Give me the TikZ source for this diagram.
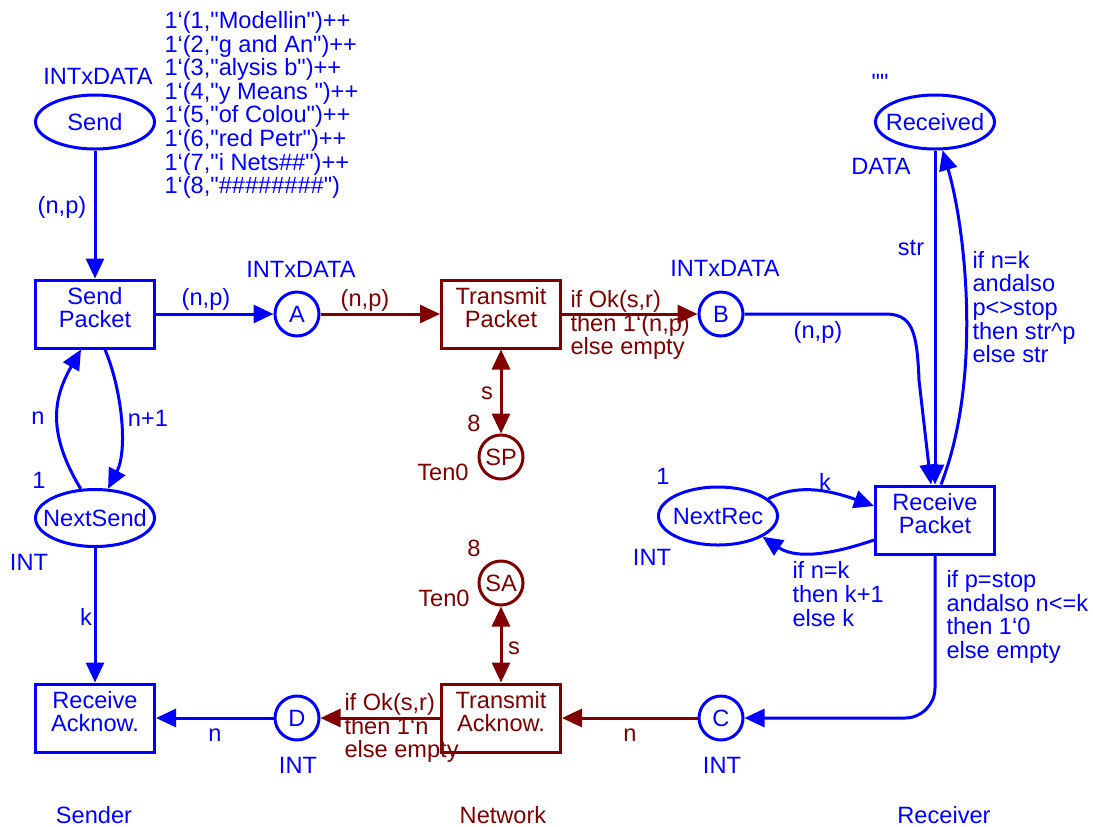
\documentclass[tikz,border=0pt]{standalone}
\usepackage{fontspec}
\setmainfont{Liberation Sans}[Ligatures=TeXOff]
\usepackage{xcolor}
\usepackage{tikz}
\usetikzlibrary{arrows.meta,shapes.geometric}

\definecolor{netred}{RGB}{128,0,0}

\begin{document}
\begin{tikzpicture}[x=0.5pt, y=-0.5pt, line width=1.5pt, >={Triangle[length=10pt,width=9pt]},
                    font=\fontsize{11.8}{11.8}\selectfont]
        \tikzstyle{place}=[circle, draw, minimum size=22pt, inner sep=0pt]
        \tikzstyle{bigplace}=[ellipse, draw, minimum width=59.5pt, minimum height=27pt, inner sep=0pt]
        \tikzstyle{trans}=[rectangle, draw, minimum width=59.5pt, minimum height=34pt, inner sep=0pt, align=center, text depth=6.5pt]
        \tikzstyle{inscr}=[inner sep=0pt, align=left]

        \useasboundingbox (0,0) rectangle (1093,826);

        % Sender
        \draw node at (95, 122) [bigplace, blue] (send) {\makebox[0pt]{Send}};
        \draw node at (98, 76) [inscr, blue] (send_type) {INTxDATA};
        \draw node at (163, 105) [inscr, blue, anchor=west] (send_init)
            {1‘(1,"Modellin")++\\1‘(2,"g and An")++\\1‘(3,"alysis b")++\\1‘(4,"y Means ")++\\
             1‘(5,"of Colou")++\\1‘(6,"red Petr")++\\1‘(7,"i Nets\#\#")++\\1‘(8,"\#\#\#\#\#\#\#\#")};

        \draw node at (95, 314) [trans, blue] (sendpkt) {Send\\Packet};
        \draw node at (95, 518) [bigplace, blue, minimum height=28.5pt] (nextsend) {\makebox[0pt]{NextSend}};
        \draw node at (39, 480) [inscr, blue] (nextsend_init) {1};
        \draw node at (29, 562) [inscr, blue] (nextsend_type) {INT};
        \draw node at (95, 718) [trans, blue] (recvack) {Receive\\Acknow.};

        \draw node at (297, 314) [place, blue] (a) {A};
        \draw node at (301, 269) [inscr, blue] (a_type) {INTxDATA};
        \draw node at (297, 718) [place, blue] (d) {D};
        \draw node at (298, 765) [inscr, blue] (d_type) {INT};

        \draw node at (94, 815) [inscr, blue] (sender) {Sender};

        % Network
        \draw node at (501, 314) [trans, netred] (transpkt) {Transmit\\Packet};
        \draw node at (501, 718) [trans, netred] (transack) {Transmit\\Acknow.};

        \draw node at (501, 457) [place, netred] (sp) {SP};
        \draw node at (474, 423) [inscr, netred] (sp_init) {8};
        \draw node at (443, 472) [inscr, netred] (sp_type) {Ten0};
        \draw node at (501, 583) [place, netred] (sa) {SA};
        \draw node at (474, 548) [inscr, netred] (sa_init) {8};
        \draw node at (444, 598) [inscr, netred] (sa_type) {Ten0};

        \draw node at (503, 815) [inscr, netred] (network) {Network};

        % Receiver
        \draw node at (721, 314) [place, blue] (b) {B};
        \draw node at (725, 268) [inscr, blue] (b_type) {INTxDATA};
        \draw node at (721, 718) [place, blue] (c) {C};
        \draw node at (722, 765) [inscr, blue] (c_type) {INT};

        \draw node at (935, 122) [bigplace, blue] (received) {\makebox[0pt]{Received}};
        \draw node at (880, 82) [inscr, blue] (received_init) {""};
        \draw node at (881, 166) [inscr, blue] (received_type) {DATA};
        \draw node at (935, 520) [trans, blue] (recvpkt) {Receive\\Packet};
        \draw node at (718, 516) [bigplace, blue, minimum height=29pt] (nextrec) {\makebox[0pt]{NextRec}};
        \draw node at (663, 476) [inscr, blue] (nextrec_init) {1};
        \draw node at (652, 557) [inscr, blue] (nextrec_type) {INT};

        \draw node at (944, 815) [inscr, blue] (receiver) {Receiver};

        % Sender arcs
        \draw [->, blue] (send) -- (sendpkt);
        \draw node at (62, 207) [inscr, blue] (lbl_send) {(n,p)};
        \draw [->, blue] (sendpkt) -- (a);
        \draw node at (206, 299) [inscr, blue] (lbl_sendpkt) {(n,p)};
        \draw [->, blue] (nextsend.116) .. controls (45,430) and (55,395) .. ([xshift=-7pt]sendpkt.south);
        \draw node at (38, 418) [inscr, blue] (lbl_n) {n};
        \draw [->, blue] ([xshift=5pt]sendpkt.south) .. controls (122,390) and (128,450) .. (nextsend.66);
        \draw node at (148, 418) [inscr, blue] (lbl_n1) {n+1};
        \draw [->, blue] (nextsend) -- (recvack);
        \draw node at (86, 617) [inscr, blue] (lbl_k) {k};
        \draw [->, blue] (d) -- (recvack);
        \draw node at (215, 735) [inscr, blue] (lbl_d) {n};

        % Network arcs
        \draw [->, netred] (a) -- (transpkt);
        \draw node at (365, 300) [inscr, netred] (lbl_a) {(n,p)};
        \draw [->, netred] (transpkt) -- (b);
        \draw node at (569, 325) [inscr, netred, anchor=west] (lbl_transpkt) {if Ok(s,r)\\then 1‘(n,p)\\else empty};
        \draw [<->, netred] (sp) -- (transpkt);
        \draw node at (487, 393) [inscr, netred] (lbl_sp) {s};
        \draw [<->, netred] (sa) -- (transack);
        \draw node at (514, 648) [inscr, netred] (lbl_sa) {s};
        \draw [->, netred] (c) -- (transack);
        \draw node at (630, 735) [inscr, netred] (lbl_c) {n};
        \draw [->, netred] (transack) -- (d);
        \draw node at (343, 728) [inscr, netred, anchor=west] (lbl_transack) {if Ok(s,r)\\then 1‘n\\else empty};

        % Receiver arcs
        \draw [->, blue] (b) -- (885,314) .. controls (912,314) and (917,330) .. (919,380) -- ([xshift=-2pt]recvpkt.north);
        \draw node at (818, 332) [inscr, blue] (lbl_b) {(n,p)};
        \draw [->, blue] (received) -- (recvpkt);
        \draw node at (911, 248) [inscr, blue] (lbl_str) {str};
        \draw [->, blue] ([xshift=3pt]recvpkt.north) .. controls (982,380) and (966,230) .. (received.-75);
        \draw node at (971, 307) [inscr, blue, anchor=west] (lbl_received) {if n=k\\andalso\\p<>stop\\then str\textasciicircum p\\else str};
        \draw [->, blue] (nextrec.19) .. controls (790,488) and (815,485) .. ([yshift=7pt]recvpkt.west);
        \draw node at (825, 482) [inscr, blue] (lbl_nextrec) {k};
        \draw [->, blue] ([yshift=-10pt]recvpkt.west) .. controls (845,550) and (800,562) .. (nextrec.-25);
        \draw node at (791, 594) [inscr, blue, anchor=west] (lbl_recvpkt) {if n=k\\then k+1\\else k};
        \draw [->, blue, rounded corners=15pt] (recvpkt.south) |- (c.east);
        \draw node at (945, 617) [inscr, blue, anchor=west] (lbl_c_in) {if p=stop\\andalso n<=k\\then 1‘0\\else empty};

\end{tikzpicture}
\end{document}
